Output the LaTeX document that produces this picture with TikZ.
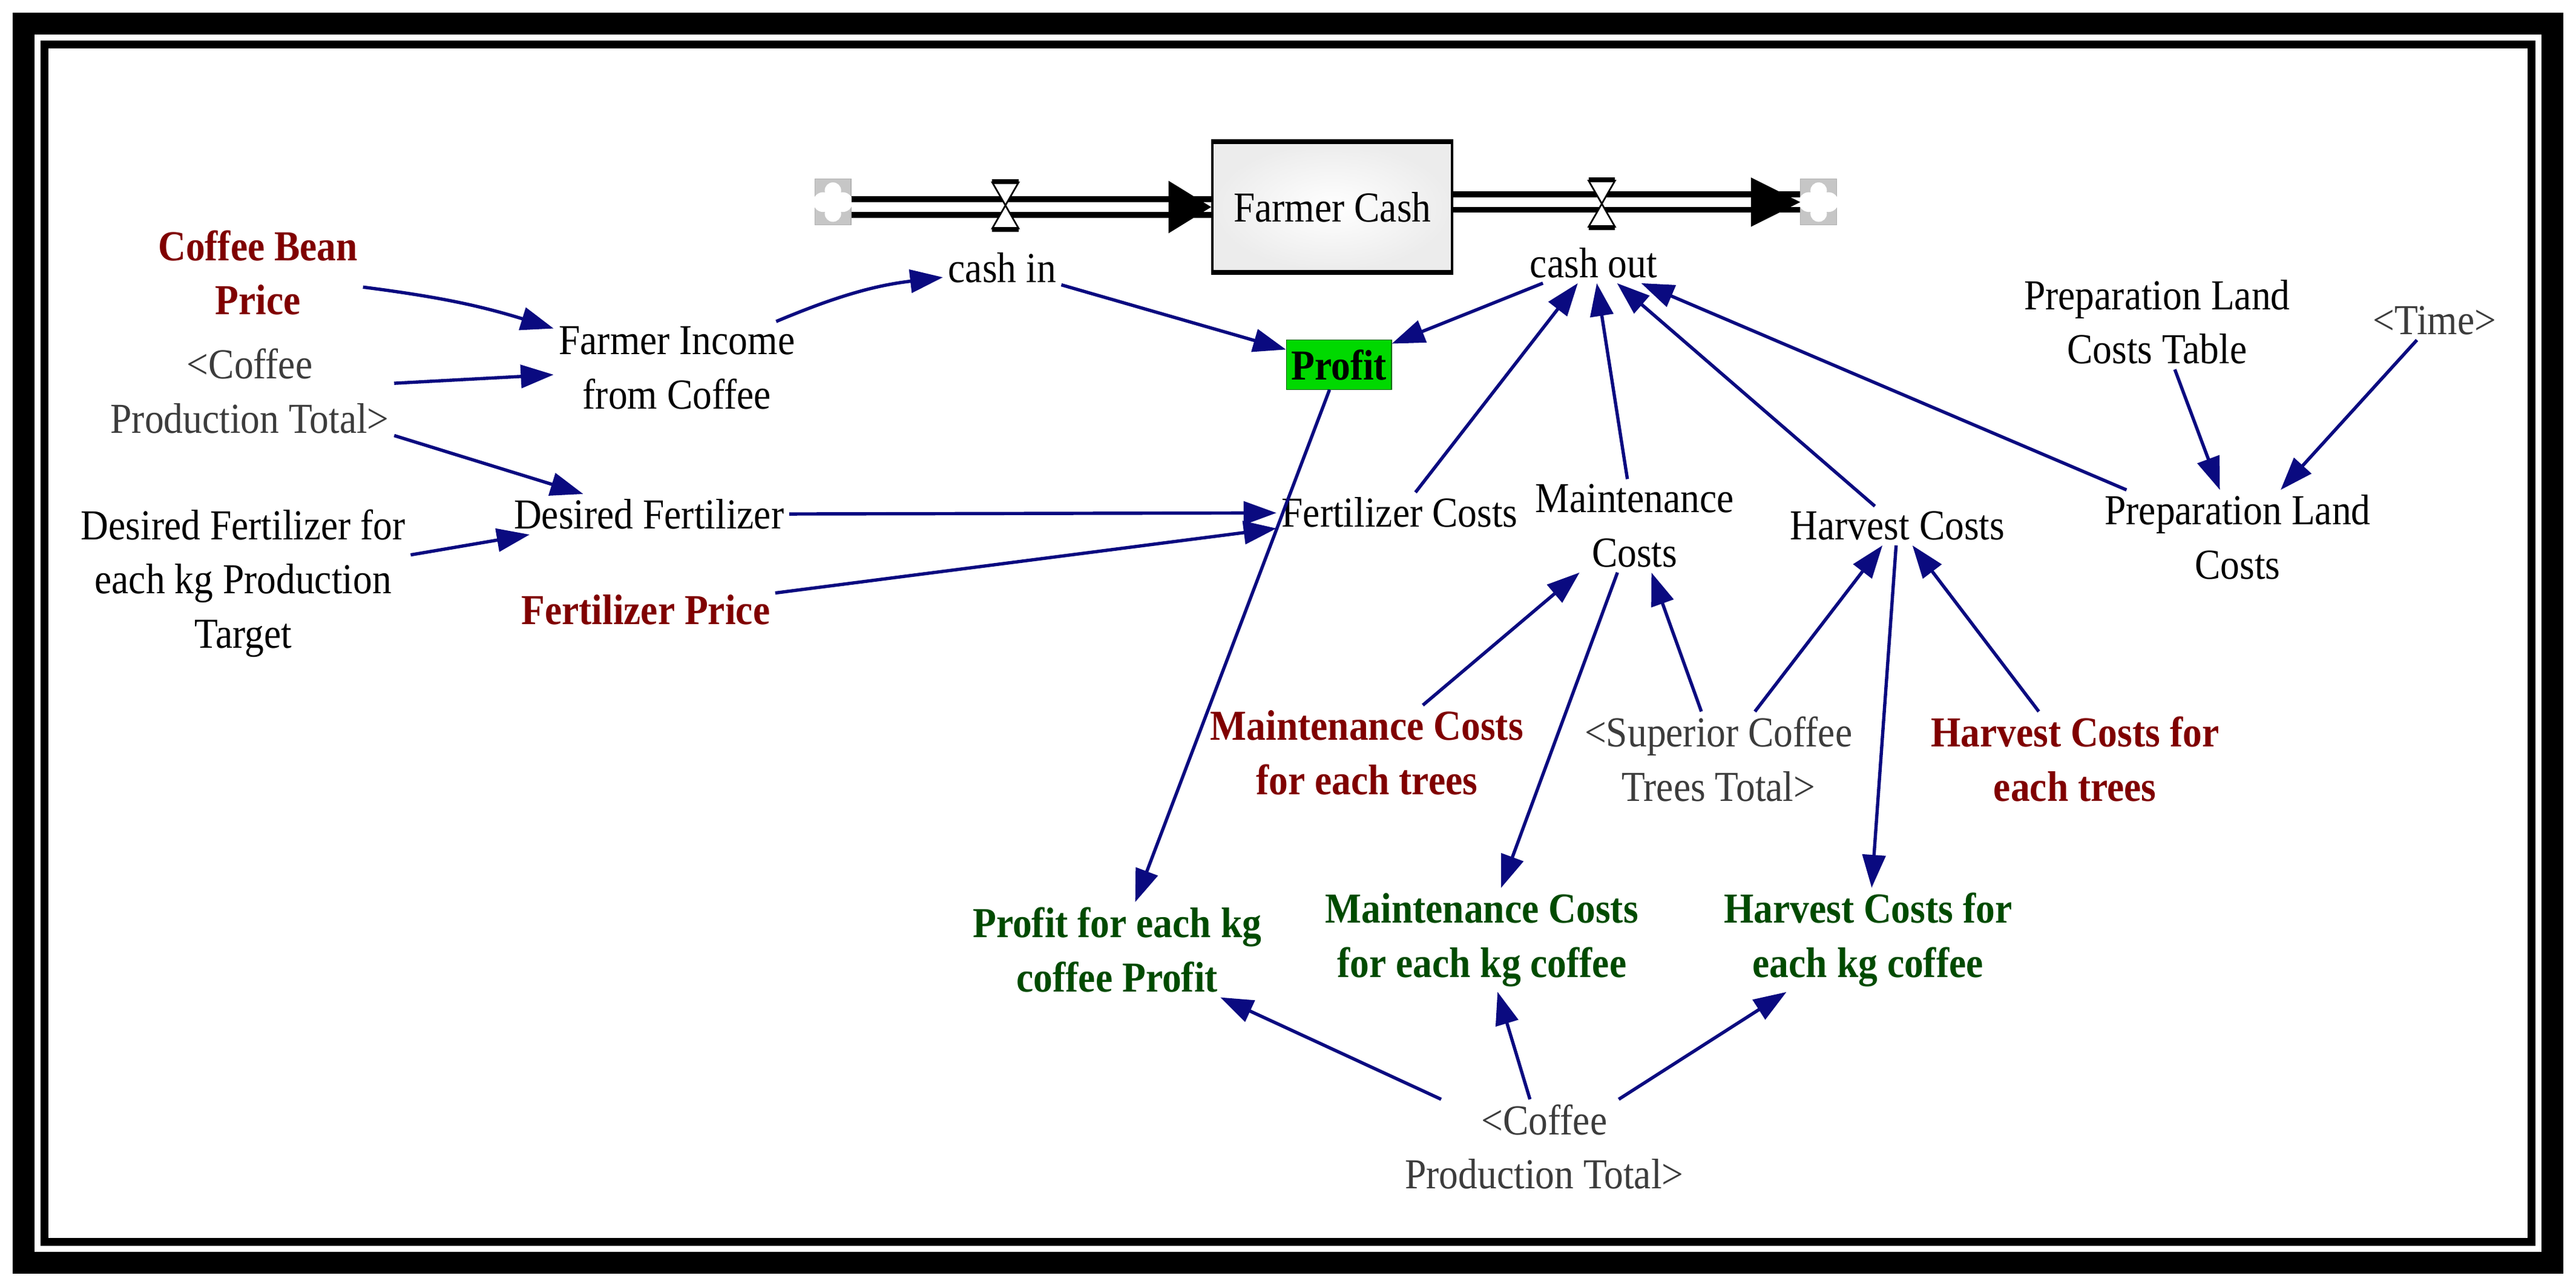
\documentclass[tikz,border=0pt]{standalone}
\usepackage{fontspec}
\setmainfont{Liberation Serif}[FakeStretch=0.9]
\usetikzlibrary{arrows.meta}
\definecolor{arr}{RGB}{10,10,128}
\definecolor{dred}{RGB}{128,0,0}
\definecolor{dgreen}{RGB}{0,75,0}
\definecolor{gtext}{RGB}{60,60,60}
\begin{document}
\begin{tikzpicture}[x=1pt,y=-1pt,
  every node/.style={font=\fontsize{26}{33}\selectfont, align=center, inner sep=3pt},
  var/.style={text=black},
  shad/.style={text=gtext},
  red/.style={text=dred, font=\fontsize{26}{33}\selectfont\bfseries},
  grn/.style={text=dgreen, font=\fontsize{26}{33}\selectfont\bfseries},
  lk/.style={draw=arr, line width=2pt, -{Triangle[length=20pt,width=14pt]}},
  pipe/.style={draw=black, double=white, double distance=6pt, line width=3.5pt},
  cloud/.style={draw=gray!60, fill=gray!45, minimum width=22pt, minimum height=28pt, inner sep=0pt}
]
\useasboundingbox (0,0) rectangle (1568,783);
\draw[line width=13.3pt] (14.35,14.35) rectangle (1553.65,768.65);
\draw[line width=4.8pt] (27.1,27.1) rectangle (1540.9,755.9);

% stock and flows
\node[draw=black, line width=1.5pt, minimum width=146pt, minimum height=78pt, inner color=white, outer color=gray!15] (stock) at (811,126) {Farmer Cash};
\draw[line width=3pt] (stock.north west) -- (stock.north east) (stock.south west) -- (stock.south east);
\node[cloud] (cl) at (507,123) {};
\node[cloud] (cr) at (1107,123) {};
\foreach \c in {cl,cr}{
  \fill[white] (\c) ++(0,-7) circle (5pt) ++(6,7) circle (6pt) ++(-6,7) circle (5pt) ++(-6,-7) circle (6pt);
  \fill[white] (\c) circle (7pt);
}
\draw[pipe] (cl.east |- 0,126) -- (stock.west |- 0,126);
\fill (stock.west |- 0,126) ++(-26,-16) -- ++(26,16) -- ++(-26,16) -- cycle;
\draw[pipe] (stock.east |- 0,123) -- (cr.west |- 0,123);
\fill (cr.west |- 0,123) ++(-30,-15) -- ++(30,15) -- ++(-30,15) -- cycle;
\foreach \vx/\vy in {612/125, 975/124}{
  \fill[white] (\vx-8,\vy-14) -- (\vx+8,\vy-14) -- (\vx,\vy) -- cycle;
  \fill[white] (\vx-8,\vy+14) -- (\vx+8,\vy+14) -- (\vx,\vy) -- cycle;
  \draw[line width=1pt] (\vx-8,\vy-14) -- (\vx+8,\vy-14) -- (\vx-8,\vy+14) -- (\vx+8,\vy+14) -- cycle;
  \fill (\vx-8,\vy-16) rectangle (\vx+8,\vy-13);
  \fill (\vx-8,\vy+13) rectangle (\vx+8,\vy+16);
}
\node[var] (cin) at (610,163) {cash in};
\node[var] (cout) at (970,160) {cash out};

% variables
\node[red] (cbp) at (157,166) {Coffee Bean\\Price};
\node[shad] (cpt) at (152,238) {<Coffee\\Production Total>};
\node[var] (fic) at (412,224) {Farmer Income\\from Coffee};
\node[draw=green!40!black, fill=green!85!black, font=\fontsize{26}{33}\selectfont\bfseries, minimum width=64pt, minimum height=30pt, inner sep=1pt] (profit) at (815,222) {Profit};
\node[var] (df) at (395,313) {Desired Fertilizer};
\node[var] (dfk) at (148,355) {Desired Fertilizer for\\each kg Production\\Target};
\node[red] (fp) at (393,371) {Fertilizer Price};
\node[var] (fc) at (852,312) {Fertilizer Costs};
\node[var] (mc) at (995,320) {Maintenance\\Costs};
\node[var] (hc) at (1155,320) {Harvest Costs};
\node[var] (plc) at (1362,327) {Preparation Land\\Costs};
\node[var] (plct) at (1313,196) {Preparation Land\\Costs Table};
\node[shad] (time) at (1482,195) {<Time>};
\node[red] (mcfet) at (832,458) {Maintenance Costs\\for each trees};
\node[shad] (sctt) at (1046,462) {<Superior Coffee\\Trees Total>};
\node[red] (hcfet) at (1263,462) {Harvest Costs for\\each trees};
\node[grn] (pfk) at (680,578) {Profit for each kg\\coffee Profit};
\node[grn] (mcfk) at (902,572) {Maintenance Costs\\for each kg coffee};
\node[grn] (hcfk) at (1137,572) {Harvest Costs for\\each kg coffee};
\node[shad] (cpt2) at (940,698) {<Coffee\\Production Total>};

% links
\draw[lk] (cbp) to[bend left=5] (fic);
\draw[lk] (cpt) -- (fic);
\draw[lk] (cpt) -- (df);
\draw[lk] (dfk) -- (df);
\draw[lk] (fic) to[bend left=8] (cin);
\draw[lk] (cin) -- (profit);
\draw[lk] (cout) -- (profit);
\draw[lk] (df) -- (fc);
\draw[lk] (fp) -- (fc);
\draw[lk] (fc) -- (cout);
\draw[lk] (mc) -- (cout);
\draw[lk] (hc) -- (cout);
\draw[lk] (plc) -- (cout);
\draw[lk] (plct) -- (plc);
\draw[lk] (time) -- (plc);
\draw[lk] (mcfet) -- (mc);
\draw[lk] (sctt) -- (mc);
\draw[lk] (sctt) -- (hc);
\draw[lk] (hcfet) -- (hc);
\draw[lk] (profit) -- (pfk);
\draw[lk] (mc) -- (mcfk);
\draw[lk] (hc) -- (hcfk);
\draw[lk] (cpt2) -- (pfk);
\draw[lk] (cpt2) -- (mcfk);
\draw[lk] (cpt2) -- (hcfk);
\end{tikzpicture}
\end{document}
